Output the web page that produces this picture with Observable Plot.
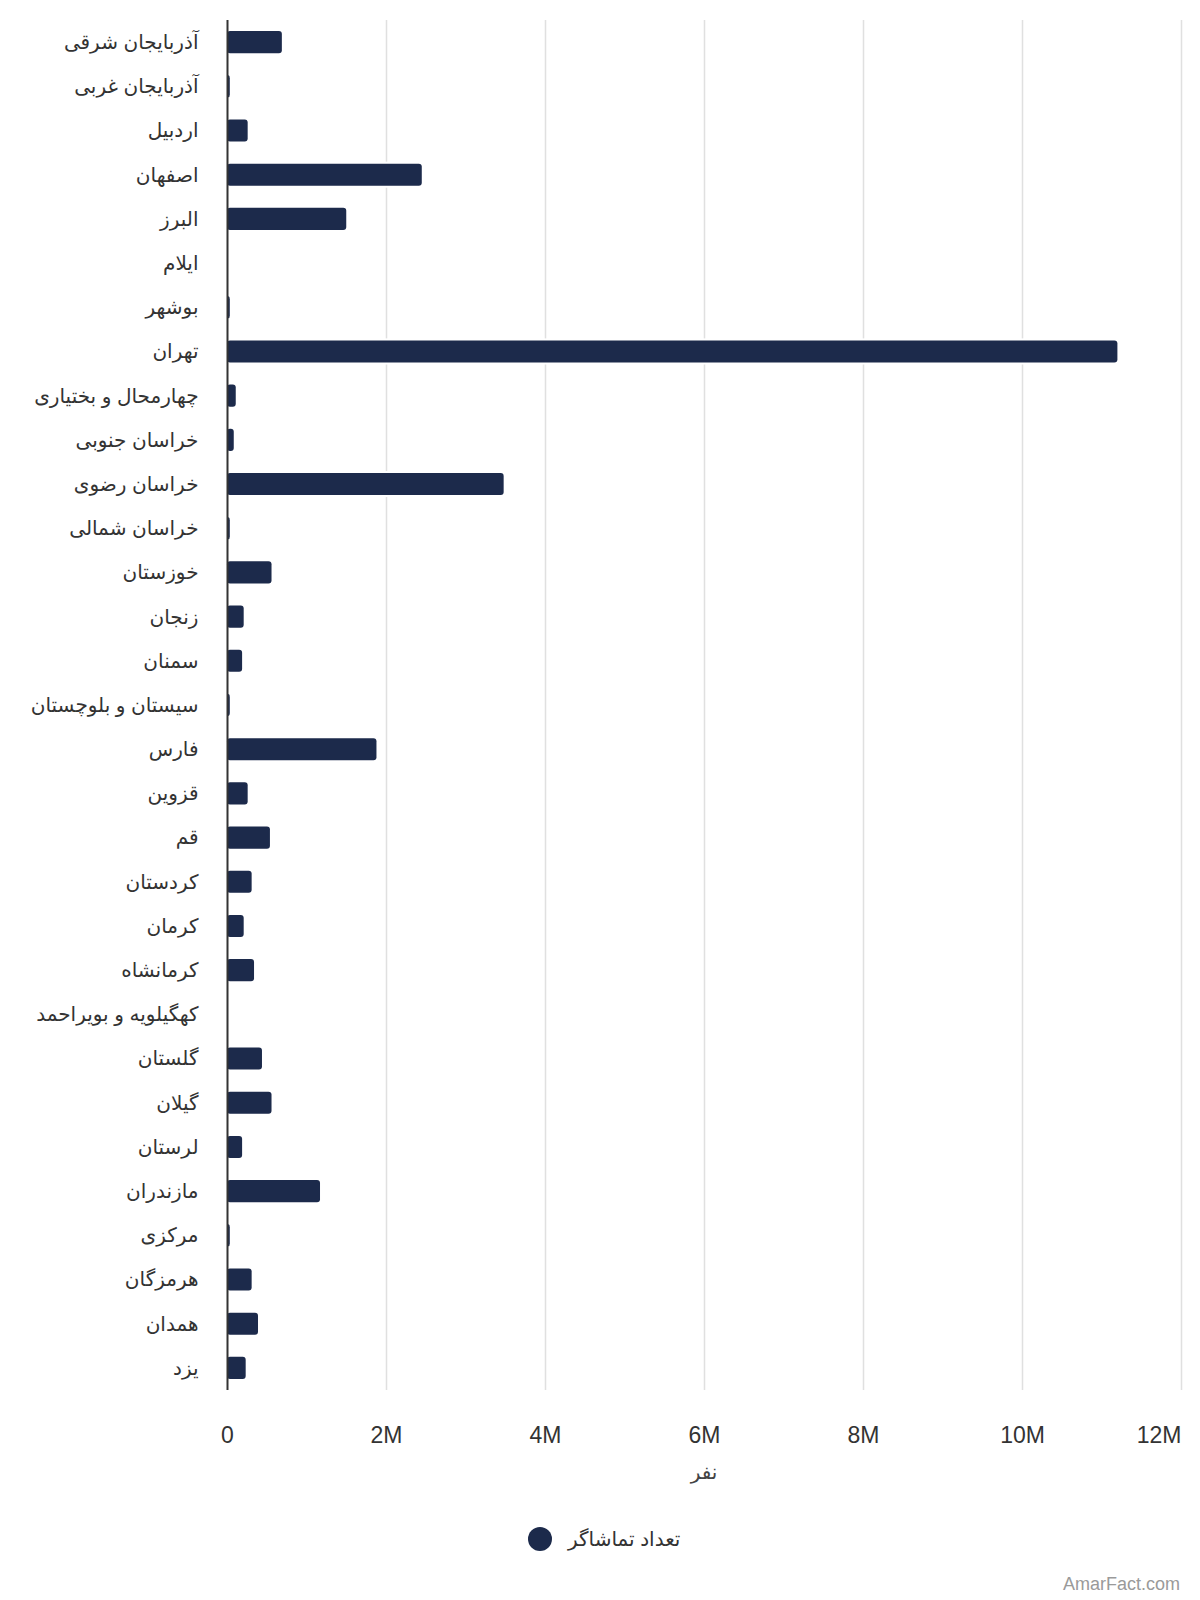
<!DOCTYPE html>
<html>
<head>
<meta charset="utf-8">
<script src="https://cdn.jsdelivr.net/npm/d3@7"></script>
<script src="https://cdn.jsdelivr.net/npm/@observablehq/plot@0.6"></script>
<style>
  html, body { margin: 0; padding: 0; background: #fff; }
  #wrap { position: relative; width: 1200px; height: 1600px; font-family: "Liberation Sans", Arial, "DejaVu Sans", sans-serif; }
  #chart { position: absolute; left: 0; top: 0; }
  .abs { position: absolute; white-space: nowrap; }
</style>
</head>
<body>
<div id="wrap">
  <div id="chart"></div>
  <div class="abs" id="xlabel" style="left:0; width:1408px; top:1458px; text-align:center; font-size:20px; color:#444; line-height:28px;" dir="rtl"></div>
  <div class="abs" id="legend" style="left:528px; top:1525px; height:28px; display:flex; align-items:center;">
    <span style="display:inline-block; width:24px; height:24px; border-radius:50%; background:#1c2a4b;"></span>
    <span id="legendText" style="margin-left:16px; font-size:20px; color:#333;" dir="rtl"></span>
  </div>
  <div class="abs" style="right:20px; top:1571px; font-size:18px; color:#9a9a9a; line-height:26px;">AmarFact.com</div>
</div>
<script>
const provinces = [
  "آذربایجان شرقی", "آذربایجان غربی", "اردبیل", "اصفهان", "البرز", "ایلام", "بوشهر", "تهران",
  "چهارمحال و بختیاری", "خراسان جنوبی", "خراسان رضوی", "خراسان شمالی", "خوزستان", "زنجان",
  "سمنان", "سیستان و بلوچستان", "فارس", "قزوین", "قم", "کردستان", "کرمان", "کرمانشاه",
  "کهگیلویه و بویراحمد", "گلستان", "گیلان", "لرستان", "مازندران", "مرکزی", "هرمزگان", "همدان", "یزد"
];
const viewers = [
  690000, 35000, 260000, 2450000, 1500000, 0, 35000, 11200000,
  110000, 85000, 3480000, 35000, 560000, 210000,
  190000, 35000, 1880000, 260000, 540000, 310000, 210000, 340000,
  0, 440000, 560000, 190000, 1170000, 35000, 310000, 390000, 235000
];
const xTicks = [0, 2000000, 4000000, 6000000, 8000000, 10000000, 12000000];
const seriesName = "تعداد تماشاگر";
const xLabel = "نفر";

document.getElementById("legendText").textContent = seriesName;
document.getElementById("xlabel").textContent = xLabel;

const data = provinces.map((p, i) => ({ province: p, viewers: viewers[i] }));
const fmt = d => d === 0 ? "0" : (d / 1e6) + "M";

const chart = Plot.plot({
  width: 1200,
  height: 1460,
  marginTop: 20,
  marginBottom: 70,
  marginLeft: 227,
  marginRight: 19,
  style: { fontFamily: '"Liberation Sans", Arial, "DejaVu Sans", sans-serif', fontSize: "20px", color: "#333", background: "white" },
  x: { domain: [0, 12000000], axis: null },
  y: { domain: provinces, paddingInner: 0.5, paddingOuter: 0.25, round: false, axis: null },
  marks: [
    Plot.ruleX(xTicks.slice(1), { stroke: "#e0e0e0", strokeWidth: 1.5 }),
    Plot.barX(data, { x: "viewers", y: "province", fill: "white", insetTop: -2, insetBottom: -2 }),
    Plot.barX(data, { x: "viewers", y: "province", fill: "#1c2a4b", rx: 3 }),
    Plot.ruleX([0], { stroke: "#333", strokeWidth: 2 }),
    Plot.axisX({ ticks: xTicks.slice(0, -1), tickFormat: fmt, tickSize: 0, tickPadding: 36, fontSize: 23, label: null }),
    Plot.axisX({ ticks: xTicks.slice(-1), tickFormat: fmt, tickSize: 0, tickPadding: 36, fontSize: 23, label: null, textAnchor: "end", dx: 0 }),
    Plot.axisY({ tickSize: 0, tickPadding: 29, label: null })
  ]
});
document.getElementById("chart").appendChild(chart);
</script>
</body>
</html>
